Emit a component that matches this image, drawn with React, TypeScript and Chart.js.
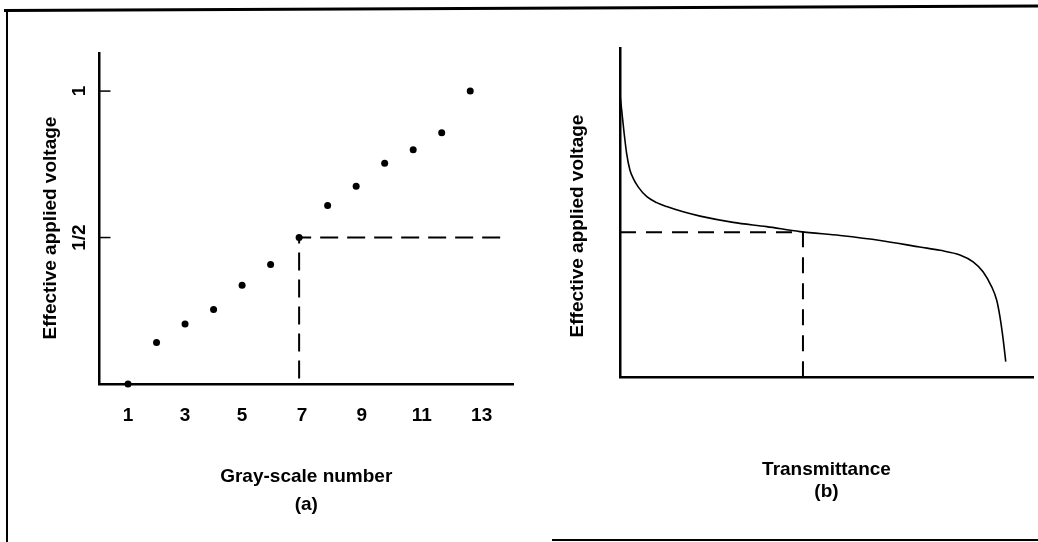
import React, { useEffect, useRef } from "react";
import { Chart, registerables } from "chart.js";

Chart.register(...registerables);

// ---------- Panel (a): gray-scale number vs effective applied voltage ----------
const GRAY_NUMBERS = [1, 2, 3, 4, 5, 6, 7, 8, 9, 10, 11, 12, 13];
const GRAY_VOLTAGE = [0, 0.142, 0.205, 0.254, 0.337, 0.408, 0.5, 0.609, 0.675, 0.754, 0.8, 0.858, 1.0];
// tick label positions as printed in the figure (labels drift slightly right of the dots)
const X_TICK_POS_A = [1, 3, 5, 7.1, 9.2, 11.3, 13.4];
const X_TICK_LABELS_A = ["1", "3", "5", "7", "9", "11", "13"];
const Y_TICKS_A = [0.5, 1];
const Y_TICK_LABELS_A = ["1/2", "1"];
const GUIDE_A_X = [14.05, 7, 7];
const GUIDE_A_Y = [0.5, 0.5, 0];
const X_TITLE_A = "Gray-scale number";
const PANEL_A = "(a)";

// ---------- Panel (b): transmittance vs effective applied voltage ----------
const TRANSMITTANCE = [
  0, 0.004, 0.01, 0.016, 0.024, 0.032, 0.044, 0.065, 0.089, 0.113, 0.153, 0.194, 0.274,
  0.355, 0.436, 0.533, 0.63, 0.726, 0.775, 0.823, 0.855, 0.879, 0.9, 0.912, 0.92, 0.927, 0.934,
];
const VOLTAGE_B = [
  0.857, 0.812, 0.741, 0.68, 0.629, 0.604, 0.578, 0.548, 0.53, 0.518, 0.502, 0.489, 0.47,
  0.457, 0.442, 0.43, 0.415, 0.395, 0.385, 0.371, 0.35, 0.32, 0.274, 0.234, 0.183, 0.122, 0.047,
];
const GUIDE_B_X = [0, 0.443, 0.443];
const GUIDE_B_Y = [0.44, 0.44, 0];
const X_TITLE_B = "Transmittance";
const PANEL_B = "(b)";

const Y_TITLE = "Effective applied voltage";

const FAMILY = '"Liberation Sans", Arial, Helvetica, sans-serif';
const FONT = { family: FAMILY, size: 19, weight: "bold" as const };

const innerTicks = {
  id: "innerTicks",
  afterDraw(chart: any) {
    const ys = chart.scales.y;
    const xs = chart.scales.x;
    const ctx = chart.ctx;
    ctx.save();
    ctx.strokeStyle = "#000";
    ctx.lineWidth = 1.5;
    Y_TICKS_A.forEach((v) => {
      const py = ys.getPixelForValue(v);
      ctx.beginPath();
      ctx.moveTo(xs.left, py);
      ctx.lineTo(xs.left + 11, py);
      ctx.stroke();
    });
    ctx.restore();
  },
};

// rotated y-axis title placed beside the axis
function yTitlePlugin(cx: number, cy: number) {
  return {
    id: "yTitle",
    afterDraw(chart: any) {
      const ctx = chart.ctx;
      ctx.save();
      ctx.translate(cx, cy);
      ctx.rotate(-Math.PI / 2);
      ctx.font = `bold 19px ${FAMILY}`;
      ctx.fillStyle = "#000";
      ctx.textAlign = "center";
      ctx.textBaseline = "middle";
      ctx.fillText(Y_TITLE, 0, 0);
      ctx.restore();
    },
  };
}

function makeLeft(canvas: HTMLCanvasElement) {
  return new Chart(canvas, {
    type: "scatter",
    data: {
      datasets: [
        {
          type: "line",
          data: GUIDE_A_X.map((x, i) => ({ x, y: GUIDE_A_Y[i] })),
          borderColor: "#000",
          borderWidth: 2,
          borderDash: [18, 9],
          pointRadius: 0,
          fill: false,
          clip: false as any,
        } as any,
        {
          type: "scatter",
          data: GRAY_NUMBERS.map((x, i) => ({ x, y: GRAY_VOLTAGE[i] })),
          pointRadius: 3.5,
          backgroundColor: "#000",
          borderWidth: 0,
          clip: false as any,
        } as any,
      ],
    },
    options: {
      responsive: false,
      animation: false,
      events: [],
      layout: { padding: { left: 0, top: 53, right: 7, bottom: 0 } },
      plugins: { legend: { display: false }, tooltip: { enabled: false } },
      scales: {
        x: {
          type: "linear",
          min: 0,
          max: 14.5,
          grid: { display: false, drawTicks: false },
          border: { display: true, color: "#000", width: 2.5 },
          afterBuildTicks: (s: any) => {
            s.ticks = X_TICK_POS_A.map((v) => ({ value: v }));
          },
          ticks: {
            callback: (_v: any, i: number) => X_TICK_LABELS_A[i],
            font: FONT,
            color: "#000",
            padding: 20,
            autoSkip: false,
            maxRotation: 0,
          },
          title: {
            display: true,
            text: [X_TITLE_A, PANEL_A],
            font: { ...FONT, lineHeight: 1.47 },
            color: "#000",
            padding: { top: 0, bottom: 23 },
          },
          afterFit: (s: any) => {
            s.height = 158;
          },
        } as any,
        y: {
          type: "linear",
          min: 0,
          max: 1.13,
          grid: { display: false, drawTicks: false },
          border: { display: true, color: "#000", width: 2.5 },
          afterBuildTicks: (s: any) => {
            s.ticks = Y_TICKS_A.map((v) => ({ value: v }));
          },
          ticks: {
            callback: (_v: any, i: number) => Y_TICK_LABELS_A[i],
            font: FONT,
            color: "#000",
            padding: 7,
            minRotation: 90,
            maxRotation: 90,
            crossAlign: "center",
            autoSkip: false,
          },
          title: { display: false },
          afterFit: (s: any) => {
            s.width = 99.5;
          },
        } as any,
      },
    },
    plugins: [innerTicks, yTitlePlugin(51, 228)],
  } as any);
}

function makeRight(canvas: HTMLCanvasElement) {
  return new Chart(canvas, {
    type: "line",
    data: {
      datasets: [
        {
          data: GUIDE_B_X.map((x, i) => ({ x, y: GUIDE_B_Y[i] })),
          borderColor: "#000",
          borderWidth: 2,
          borderDash: [16, 10],
          pointRadius: 0,
          fill: false,
          clip: false as any,
        } as any,
        {
          data: TRANSMITTANCE.map((x, i) => ({ x, y: VOLTAGE_B[i] })),
          borderColor: "#000",
          borderWidth: 1.6,
          pointRadius: 0,
          fill: false,
          cubicInterpolationMode: "monotone",
          clip: false as any,
        } as any,
      ],
    },
    options: {
      responsive: false,
      animation: false,
      events: [],
      layout: { padding: { left: 0, top: 48, right: 5, bottom: 0 } },
      plugins: { legend: { display: false }, tooltip: { enabled: false } },
      scales: {
        x: {
          type: "linear",
          min: 0,
          max: 1,
          grid: { display: false, drawTicks: false },
          border: { display: true, color: "#000", width: 2.5 },
          ticks: { display: false },
          title: {
            display: true,
            text: [X_TITLE_B, PANEL_B],
            font: { ...FONT, lineHeight: 1.16 },
            color: "#000",
            padding: { top: 0, bottom: 39 },
          },
          afterFit: (s: any) => {
            s.height = 165;
          },
        } as any,
        y: {
          type: "linear",
          min: 0,
          max: 1,
          grid: { display: false, drawTicks: false },
          border: { display: true, color: "#000", width: 2.5 },
          ticks: { display: false },
          title: { display: false },
          afterFit: (s: any) => {
            s.width = 100;
          },
        } as any,
      },
    },
    plugins: [yTitlePlugin(58, 226)],
  } as any);
}

export default function App() {
  const leftRef = useRef<HTMLCanvasElement>(null);
  const rightRef = useRef<HTMLCanvasElement>(null);

  useEffect(() => {
    const a = makeLeft(leftRef.current!);
    const b = makeRight(rightRef.current!);
    return () => {
      a.destroy();
      b.destroy();
    };
  }, []);

  return (
    <div
      style={{
        position: "absolute",
        left: 0,
        top: 0,
        width: 1038,
        height: 542,
        background: "#fff",
        overflow: "hidden",
      }}
    >
      <canvas
        ref={leftRef}
        width={520}
        height={542}
        style={{ position: "absolute", left: 0, top: 0, width: 520, height: 542 }}
      />
      <canvas
        ref={rightRef}
        width={518}
        height={542}
        style={{ position: "absolute", left: 520, top: 0, width: 518, height: 542 }}
      />
      {/* frame lines */}
      <div
        style={{
          position: "absolute",
          left: 4,
          top: 9,
          width: 1040,
          height: 2.5,
          background: "#000",
          transform: "rotate(-0.25deg)",
          transformOrigin: "0 0",
        }}
      />
      <div
        style={{
          position: "absolute",
          left: 5.5,
          top: 9,
          width: 2.5,
          height: 540,
          background: "#000",
        }}
      />
      <div
        style={{
          position: "absolute",
          left: 552,
          top: 538.5,
          width: 486,
          height: 2.5,
          background: "#000",
        }}
      />
    </div>
  );
}
